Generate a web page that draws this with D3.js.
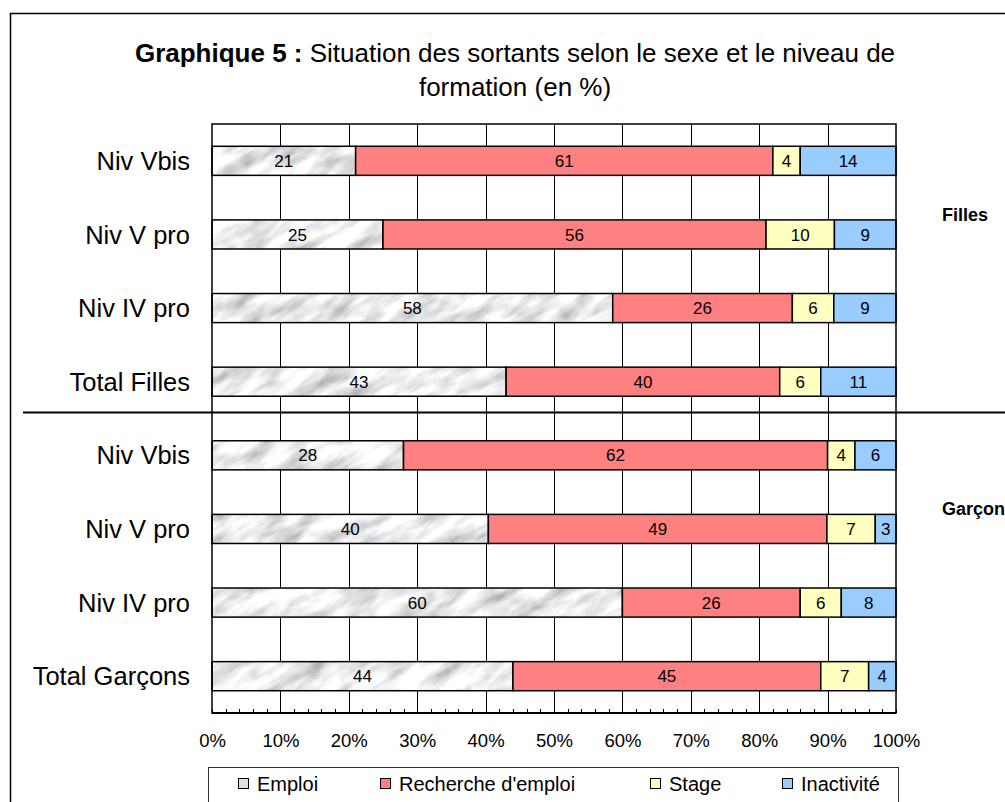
<!DOCTYPE html>
<html>
<head>
<meta charset="utf-8">
<script src="https://cdn.jsdelivr.net/npm/d3@7"></script>
<style>
  html, body { margin: 0; padding: 0; background: #fff; }
  svg { display: block; font-family: "Liberation Sans", Arial, sans-serif; }
</style>
</head>
<body>
<svg id="chart" width="1005" height="802"></svg>
<script>
// Rows, top to bottom: four levels for girls, then four for boys
const categories = ["Niv Vbis", "Niv V pro", "Niv IV pro", "Total Filles",
                    "Niv Vbis", "Niv V pro", "Niv IV pro", "Total Garçons"];
const groups = ["Filles", "Garçon"];
const seriesNames = ["Emploi", "Recherche d'emploi", "Stage", "Inactivité"];

const emploi     = [21, 25, 58, 43, 28, 40, 60, 44];
const recherche  = [61, 56, 26, 40, 62, 49, 26, 45];
const stage      = [4, 10, 6, 6, 4, 7, 6, 7];
const inactivite = [14, 9, 9, 11, 6, 3, 8, 4];

const tickValues = [0, 0.1, 0.2, 0.3, 0.4, 0.5, 0.6, 0.7, 0.8, 0.9, 1];

const titleBold = "Graphique 5 :";
const titleRest = " Situation des sortants selon le sexe et le niveau de";
const titleLine2 = "formation (en %)";

// ---- assemble rows for the stack
const rows = categories.map((c, i) => ({
  idx: i,
  label: c,
  "Emploi": emploi[i],
  "Recherche d'emploi": recherche[i],
  "Stage": stage[i],
  "Inactivité": inactivite[i]
}));

const colors = {
  "Emploi": "url(#marblePat)",
  "Recherche d'emploi": "#ff8080",
  "Stage": "#ffffc0",
  "Inactivité": "#99ccff"
};
const legendColors = {
  "Emploi": "#dfe0e2",
  "Recherche d'emploi": "#ff8080",
  "Stage": "#ffffc0",
  "Inactivité": "#99ccff"
};

const svg = d3.select("#chart");

// marble-like texture for the "Emploi" segments: mottled grey noise tilted diagonally
const defs = svg.append("defs");
const f = defs.append("filter").attr("id", "marble")
  .attr("filterUnits", "userSpaceOnUse")
  .attr("x", 0).attr("y", 0).attr("width", 400).attr("height", 400);
f.append("feTurbulence").attr("type", "fractalNoise")
  .attr("baseFrequency", "0.025 0.07").attr("numOctaves", 5).attr("seed", 11)
  .attr("stitchTiles", "stitch").attr("result", "noise");
f.append("feColorMatrix").attr("in", "noise").attr("type", "matrix")
  .attr("values", "1.1 0 0 0 0.28  1.1 0 0 0 0.285  1.1 0 0 0 0.30  0 0 0 0 1");
const pat = defs.append("pattern").attr("id", "marblePat")
  .attr("patternUnits", "userSpaceOnUse")
  .attr("width", 400).attr("height", 400)
  .attr("patternTransform", "rotate(-30)");
pat.append("rect").attr("width", 400).attr("height", 400)
  .attr("fill", "#e0e0e0").attr("filter", "url(#marble)");

const plot = { left: 212, right: 896, top: 124, bottom: 713 };

const x = d3.scaleLinear().domain([0, 1]).range([plot.left, plot.right]);
const y = d3.scaleBand().domain(d3.range(categories.length))
  .range([plot.top, plot.bottom]).paddingInner(0.605).paddingOuter(0.3025);

const stack = d3.stack().keys(seriesNames).offset(d3.stackOffsetExpand);
const stacked = stack(rows);

// outer frame
svg.append("rect")
  .attr("x", 10.5).attr("y", 13.5).attr("width", 1020).attr("height", 820)
  .attr("fill", "#fff").attr("stroke", "#000").attr("stroke-width", 1.5);

// title
const title = svg.append("text")
  .attr("x", 515).attr("y", 62).attr("text-anchor", "middle")
  .attr("font-size", 26).attr("fill", "#000");
title.append("tspan").attr("font-weight", "bold").text(titleBold);
title.append("tspan").text(titleRest);
svg.append("text")
  .attr("x", 515).attr("y", 96).attr("text-anchor", "middle")
  .attr("font-size", 26).attr("fill", "#000").text(titleLine2);

// plot background
svg.append("rect")
  .attr("x", plot.left).attr("y", plot.top)
  .attr("width", plot.right - plot.left).attr("height", plot.bottom - plot.top)
  .attr("fill", "#fff");

// vertical gridlines
svg.append("g").selectAll("line").data(tickValues.slice(1, -1)).join("line")
  .attr("x1", d => Math.round(x(d)) + 0.5).attr("x2", d => Math.round(x(d)) + 0.5)
  .attr("y1", plot.top).attr("y2", plot.bottom)
  .attr("stroke", "#000").attr("stroke-width", 1);

// bars
const layers = svg.append("g").selectAll("g").data(stacked).join("g");
layers.each(function (layer) {
  const g = d3.select(this);
  const key = layer.key;
  g.selectAll("rect").data(layer).join("rect")
    .attr("x", d => x(d[0])).attr("y", (d, i) => y(i))
    .attr("width", d => x(d[1]) - x(d[0])).attr("height", y.bandwidth())
    .attr("fill", colors[key]).attr("stroke", "#000").attr("stroke-width", 1.5);
  g.selectAll("text").data(layer).join("text")
    .attr("x", d => (x(d[0]) + x(d[1])) / 2)
    .attr("y", (d, i) => y(i) + y.bandwidth() / 2)
    .attr("dy", "0.36em").attr("text-anchor", "middle")
    .attr("font-size", 17).attr("fill", "#000")
    .text(d => d.data[key]);
});

// plot frame
svg.append("rect")
  .attr("x", plot.left).attr("y", plot.top)
  .attr("width", plot.right - plot.left).attr("height", plot.bottom - plot.top)
  .attr("fill", "none").attr("stroke", "#000").attr("stroke-width", 1.5);

// category labels
svg.append("g").selectAll("text").data(categories).join("text")
  .attr("x", 190).attr("y", (d, i) => y(i) + y.bandwidth() / 2)
  .attr("dy", "0.36em").attr("text-anchor", "end")
  .attr("font-size", 25.5).attr("fill", "#000").text(d => d);

// bottom axis: labels plus minor ticks every 2 %
const axis = d3.axisBottom(x).tickValues(tickValues)
  .tickFormat(d3.format(".0%")).tickSize(0).tickPadding(20);
const ax = svg.append("g").attr("transform", `translate(0,${plot.bottom})`).call(axis);
ax.select(".domain").remove();
ax.selectAll("text").attr("font-size", 18.5).attr("font-family", "Liberation Sans, Arial, sans-serif")
  .attr("fill", "#000").attr("dy", "0.36em").attr("y", 27);
const minor = d3.range(0, 1.0001, 0.02);
svg.append("g").selectAll("line").data(minor).join("line")
  .attr("x1", d => Math.round(x(d)) + 0.5).attr("x2", d => Math.round(x(d)) + 0.5)
  .attr("y1", plot.bottom - 4).attr("y2", plot.bottom)
  .attr("stroke", "#000").attr("stroke-width", 1);
svg.append("line")
  .attr("x1", plot.left).attr("x2", plot.right)
  .attr("y1", plot.bottom).attr("y2", plot.bottom)
  .attr("stroke", "#000").attr("stroke-width", 2);

// separator between the two groups
const sepY = (y(3) + y.bandwidth() + y(4)) / 2 - 6;
svg.append("line")
  .attr("x1", 23).attr("x2", 1005).attr("y1", sepY).attr("y2", sepY)
  .attr("stroke", "#000").attr("stroke-width", 2);

// group labels on the right
const groupY = [ (y(1) + y.bandwidth() / 2 - 20), (y(5) + y.bandwidth() / 2 - 20) ];
svg.append("g").selectAll("text").data(groups).join("text")
  .attr("x", 942).attr("y", (d, i) => groupY[i])
  .attr("dy", "0.36em").attr("font-size", 18).attr("font-weight", "bold")
  .attr("fill", "#000").text(d => d);

// legend
const legend = svg.append("g");
legend.append("rect")
  .attr("x", 208.5).attr("y", 767.5).attr("width", 690).attr("height", 60)
  .attr("fill", "#fff").attr("stroke", "#333").attr("stroke-width", 1);
const legendX = [238, 380, 650, 782];
const li = legend.selectAll("g.item").data(seriesNames).join("g").attr("class", "item")
  .attr("transform", (d, i) => `translate(${legendX[i]},784)`);
li.append("rect").attr("x", 0.5).attr("y", -5.5).attr("width", 10).attr("height", 10)
  .attr("fill", d => legendColors[d]).attr("stroke", "#000").attr("stroke-width", 1);
li.append("text").attr("x", 19).attr("dy", "0.36em").attr("font-size", 20)
  .attr("fill", "#000").text(d => d);
</script>
</body>
</html>
